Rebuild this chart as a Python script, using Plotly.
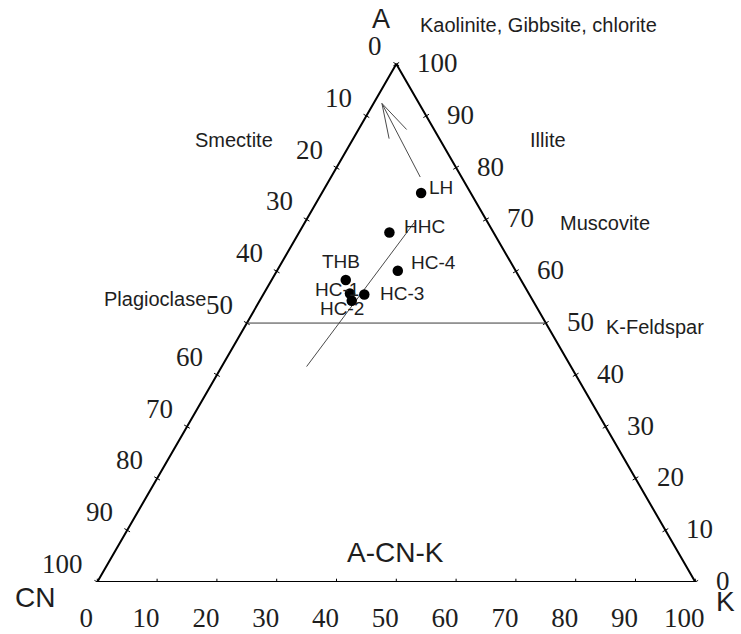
import math
import plotly.graph_objects as go

# --- sample compositions (A, CN, K in %) ---
samples = ["LH", "HHC", "HC-4", "THB", "HC-1", "HC-2", "HC-3"]
a_vals = [75.1, 67.5, 60.1, 58.3, 55.7, 54.3, 55.5]
cn_vals = [8.3, 17.4, 19.7, 29.3, 29.9, 30.3, 27.6]
k_vals = [16.6, 15.1, 20.2, 12.4, 14.4, 15.4, 16.9]

# weathering trend line (two end compositions, A, CN, K)
trend_a = [41.6, 69.4]
trend_cn = [44.2, 12.3]
trend_k = [14.2, 18.3]

# arrow towards the A apex (tail, head)
arrow_a = [78.2, 92.4]
arrow_cn = [6.9, 6.2]
arrow_k = [14.9, 1.4]

# feldspar join (A = 50)
join_a = [50, 50]
join_cn = [50, 0]
join_k = [0, 50]

tick_values = list(range(0, 101, 10))
tick_labels = [str(v) for v in tick_values]

SQ3 = math.sqrt(3) / 2
INK = "#1e1e1e"
SANS = "Liberation Sans, Arial, sans-serif"
SERIF = "Liberation Serif, Times New Roman, serif"
SCALE = 5.98          # pixels per composition unit
BASE_PX = 582         # pixel row of the CN-K edge


def tern(a, cn, k):
    s = a + cn + k
    a, k = 100 * a / s, 100 * k / s
    return k + a / 2, a * SQ3


def tern_xy(al, cnl, kl):
    pts = [tern(a, c, k) for a, c, k in zip(al, cnl, kl)]
    return [p[0] for p in pts], [p[1] for p in pts]


fig = go.Figure()

# triangle frame
vx, vy = tern_xy([100, 0, 0, 100], [0, 100, 0, 0], [0, 0, 100, 0])
fig.add_trace(go.Scatter(x=vx, y=vy, mode="lines",
                         line=dict(color="black", width=2), hoverinfo="skip"))

# small crossing ticks on the three edges
tx, ty = [], []
h = 0.55
for v in tick_values:
    edges = [
        (tern(100 - v, v, 0), (-SQ3, 0.5)),
        (tern(v, 0, 100 - v), (SQ3, 0.5)),
        (tern(0, 100 - v, v), (0.0, -1.0)),
    ]
    for (px, py), (nx, ny) in edges:
        tx += [px - nx * h, px + nx * h, None]
        ty += [py - ny * h, py + ny * h, None]
fig.add_trace(go.Scatter(x=tx, y=ty, mode="lines",
                         line=dict(color="black", width=1), hoverinfo="skip"))

# A = 50 join
jx, jy = tern_xy(join_a, join_cn, join_k)
fig.add_trace(go.Scatter(x=jx, y=jy, mode="lines",
                         line=dict(color="#3a3a3a", width=1), hoverinfo="skip"))

# trend line
lx, ly = tern_xy(trend_a, trend_cn, trend_k)
fig.add_trace(go.Scatter(x=lx, y=ly, mode="lines",
                         line=dict(color="#4a4a4a", width=1), hoverinfo="skip"))

# arrow with an open head
ax, ay = tern_xy(arrow_a, arrow_cn, arrow_k)
dx, dy = ax[1] - ax[0], ay[1] - ay[0]
ln = math.hypot(dx, dy)
ux, uy = dx / ln, dy / ln
head_len, half = 6.0, math.radians(16)
hx, hy = [], []
for sgn in (1, -1):
    c, s = math.cos(sgn * half), math.sin(sgn * half)
    bx, by = -(ux * c - uy * s), -(ux * s + uy * c)
    hx += [ax[1], ax[1] + bx * head_len, None]
    hy += [ay[1], ay[1] + by * head_len, None]
fig.add_trace(go.Scatter(x=ax + [None] + hx, y=ay + [None] + hy, mode="lines",
                         line=dict(color="#4a4a4a", width=1), hoverinfo="skip"))

# samples
px_, py_ = tern_xy(a_vals, cn_vals, k_vals)
fig.add_trace(go.Scatter(x=px_, y=py_, mode="markers",
                         marker=dict(color="black", size=10.5), hoverinfo="skip"))

annotations = []
label_offsets = {
    "LH": ("left", 6, 6),
    "HHC": ("left", 13, 6),
    "HC-4": ("left", 11, 8),
    "THB": ("center", -5, 19),
    "HC-1": ("center", -13, 4),
    "HC-2": ("center", -10, -8),
    "HC-3": ("left", 14, 1),
}
for name, x, y in zip(samples, px_, py_):
    anchor, xs, ys = label_offsets[name]
    annotations.append(dict(x=x, y=y, text=name, showarrow=False, xanchor=anchor,
                            yanchor="middle", xshift=xs, yshift=ys,
                            font=dict(family=SANS, size=19, color=INK)))

# edge scale labels: left edge shows CN, right edge shows A
for v, t in zip(tick_values, tick_labels):
    lx0, ly0 = tern(100 - v, v, 0)
    annotations.append(dict(x=lx0, y=ly0, text=t, showarrow=False, xanchor="right",
                            yanchor="middle", xshift=-12, yshift=18,
                            font=dict(family=SERIF, size=27, color=INK)))
    rx0, ry0 = tern(v, 0, 100 - v)
    annotations.append(dict(x=rx0, y=ry0, text=t, showarrow=False, xanchor="left",
                            yanchor="middle", xshift=19, yshift=1,
                            font=dict(family=SERIF, size=27, color=INK)))

# vertex and field names (x in composition units, y in pixels below the base when negative)
names = [
    ("A", 47.4, 94.2, "center", 27),
    ("Kaolinite, Gibbsite, chlorite", 53.6, 93.1, "left", 20),
    ("Smectite", 22.9, 73.9, "center", 20),
    ("Plagioclase", 9.7, 47.3, "center", 20),
    ("Illite", 75.4, 73.9, "center", 20),
    ("Muscovite", 84.9, 60.0, "center", 20),
    ("K-Feldspar", 93.3, 42.6, "center", 20),
    ("A-CN-K", 49.8, 5.0, "center", 28),
]
for text, x, y, anchor, size in names:
    annotations.append(dict(x=x, y=y, text=text, showarrow=False, xanchor=anchor,
                            yanchor="middle", font=dict(family=SANS, size=size, color=INK)))

# corner names under the base line, placed in paper units
for text, x, below_px in [("CN", -10.4, 15), ("K", 105.1, 19)]:
    annotations.append(dict(x=x, xref="x", y=-below_px / BASE_PX, yref="paper",
                            text=text, showarrow=False, xanchor="center",
                            yanchor="middle", font=dict(family=SANS, size=28, color=INK)))

fig.update_layout(
    width=741, height=634,
    margin=dict(l=0, r=0, t=0, b=634 - BASE_PX),
    paper_bgcolor="white", plot_bgcolor="white",
    showlegend=False,
    annotations=annotations,
    xaxis=dict(range=[-97.3 / SCALE, (741 - 97.3) / SCALE],
               tickvals=tick_values, ticktext=tick_labels,
               showgrid=False, zeroline=False, showline=False, ticks="",
               tickfont=dict(family=SERIF, size=27, color=INK),
               ticklabelshift=-11, ticklabelstandoff=17),
    yaxis=dict(range=[0, BASE_PX / SCALE], visible=False),
)
for tr in fig.data:
    tr.cliponaxis = False

fig.write_html("out.html")
